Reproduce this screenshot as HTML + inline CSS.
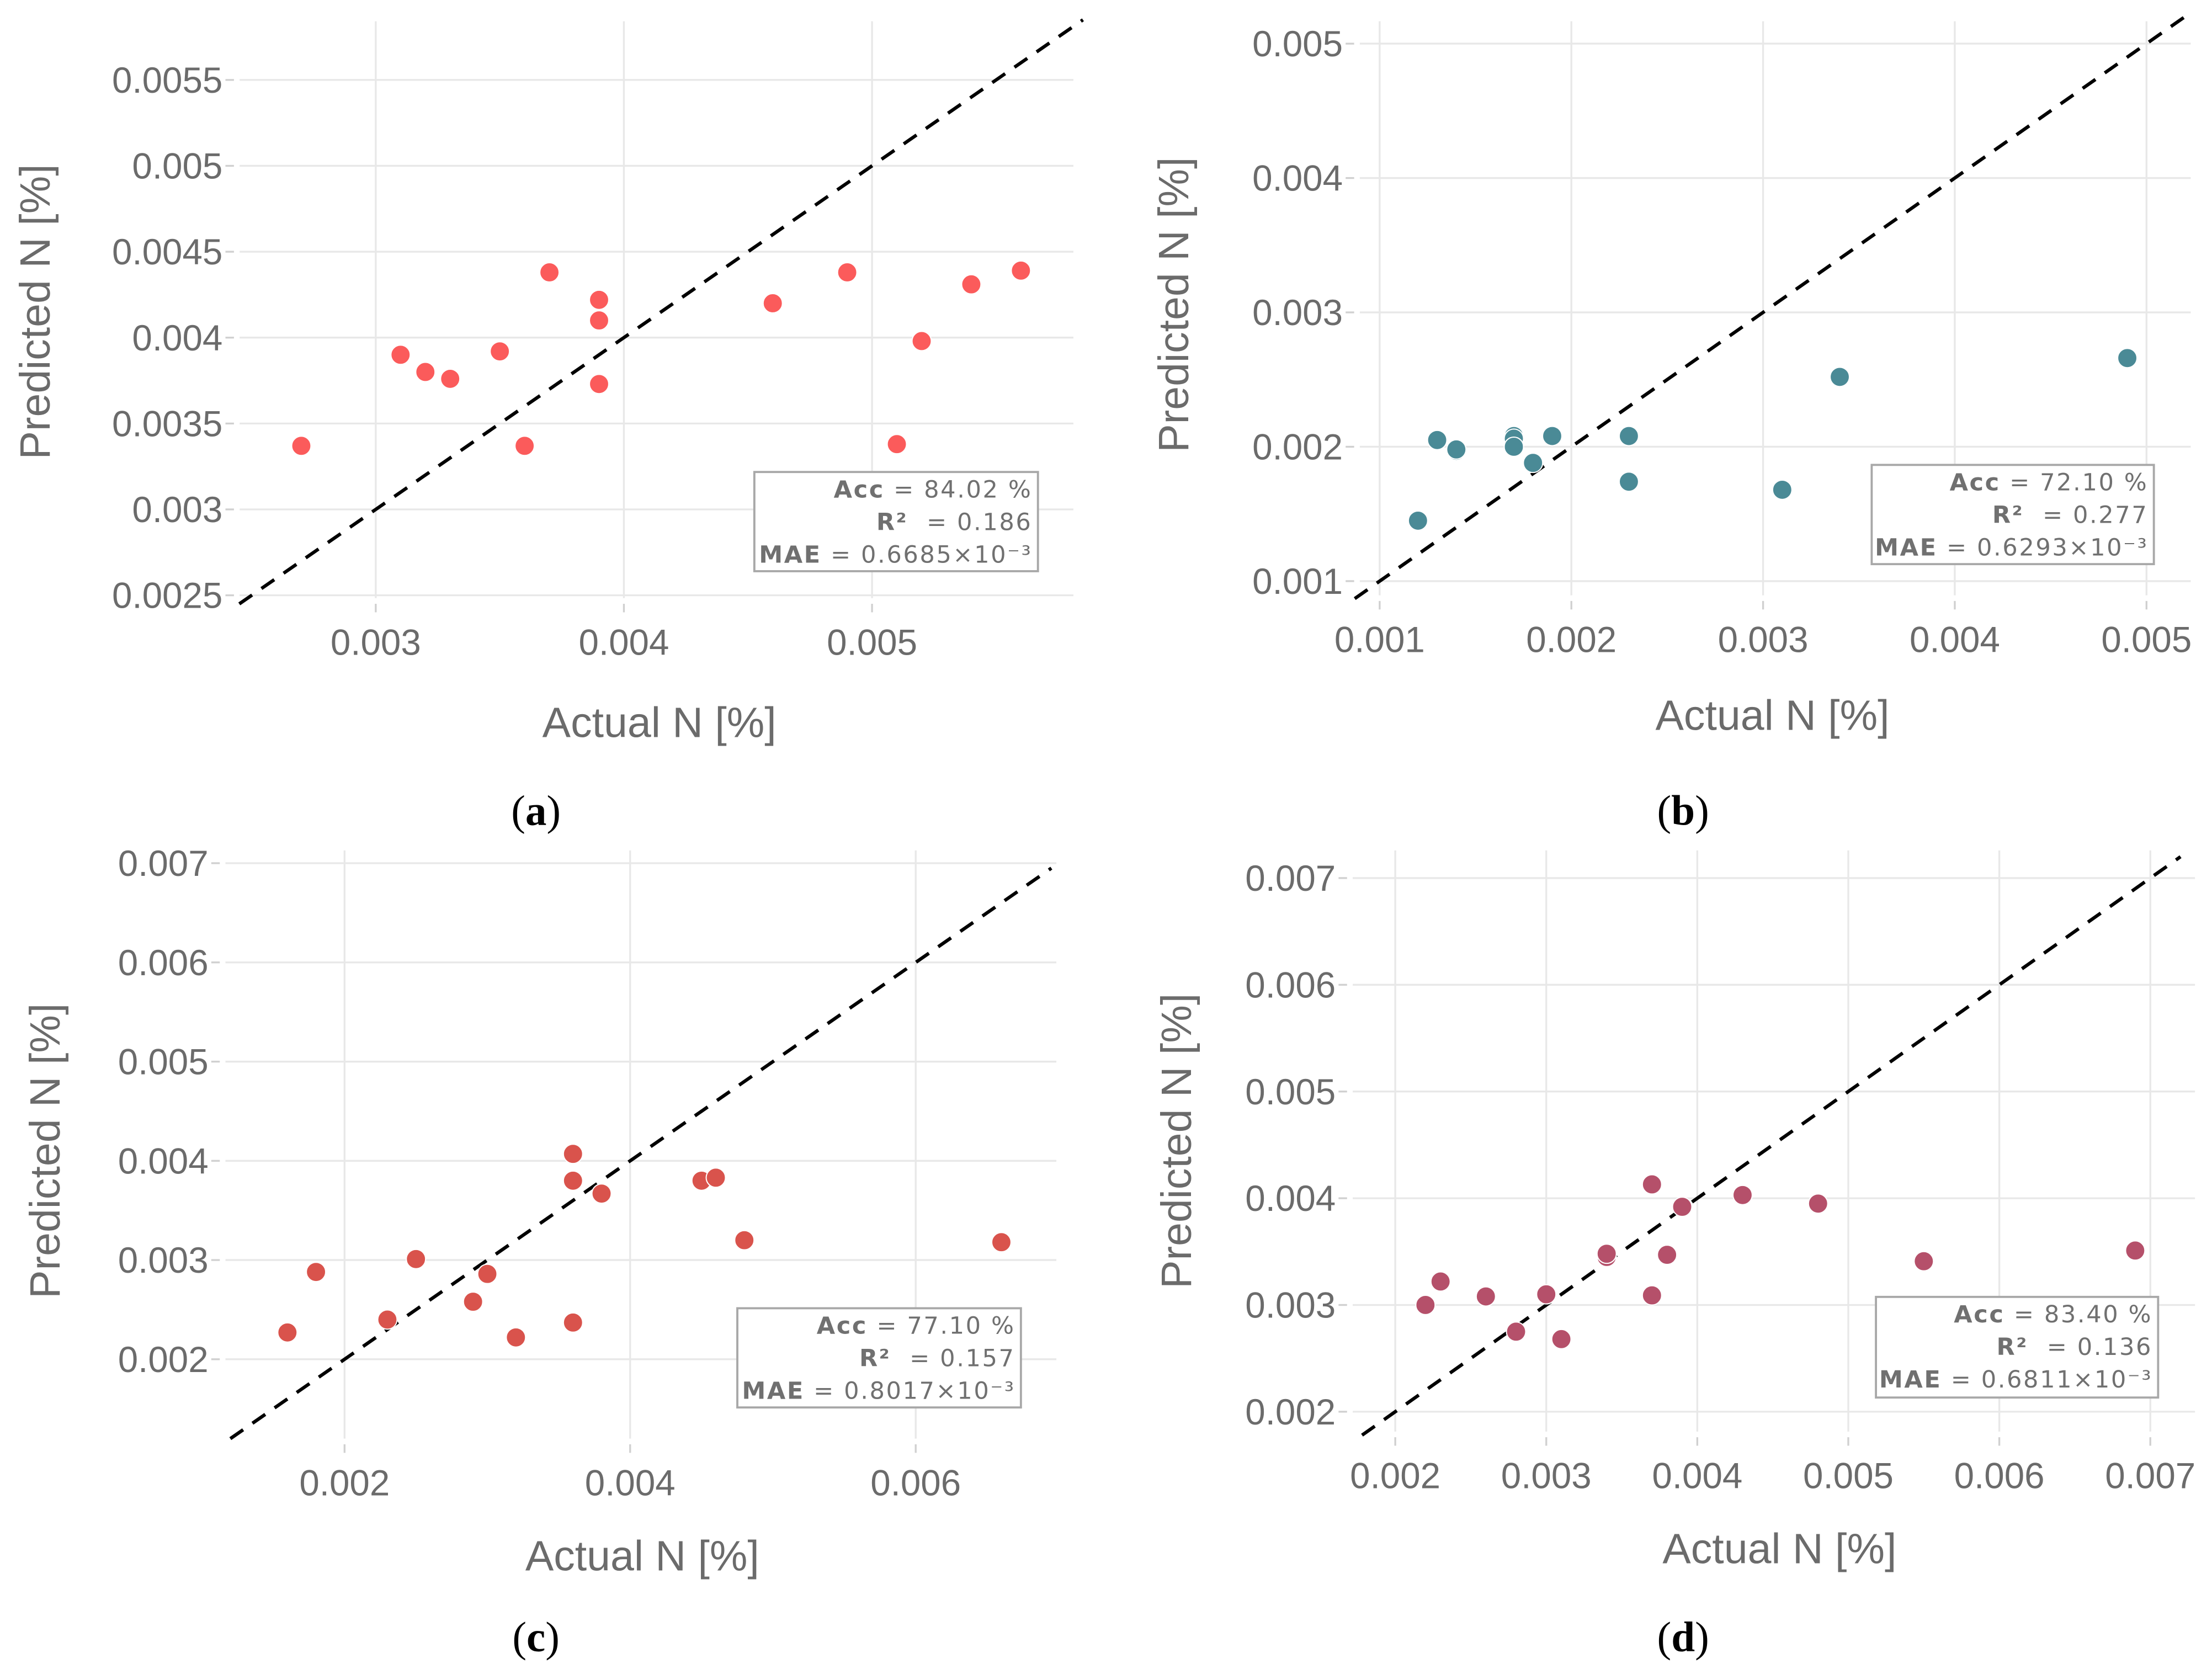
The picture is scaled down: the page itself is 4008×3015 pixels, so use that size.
<!DOCTYPE html>
<html><head><meta charset="utf-8"><style>
html,body{margin:0;padding:0;background:#fff;}
svg{display:block;}
.tick{font-family:"Liberation Sans",sans-serif;font-size:25.5px;fill:#6b6b6b;}
.atitle{font-family:"Liberation Sans",sans-serif;font-size:30px;fill:#6b6b6b;}
.stat{font-family:"DejaVu Sans",sans-serif;font-size:16.8px;fill:#707070;letter-spacing:1px;}
.cap{font-family:"Liberation Serif",serif;font-size:30px;fill:#000;}
</style></head><body>
<svg id="fig" width="4008" height="3015" viewBox="0 0 1560 1174" preserveAspectRatio="none" xmlns="http://www.w3.org/2000/svg"></svg>
<script>
// Panel (a)
const aX=[2.7,3.1,3.2,3.3,3.5,3.6,3.7,3.9,3.9,3.9,4.6,4.9,5.1,5.2,5.4,5.6];
const aY=[3.37,3.9,3.8,3.76,3.92,3.37,4.38,4.22,4.1,3.73,4.2,4.38,3.38,3.98,4.31,4.39];
const aXTicks=["0.003","0.004","0.005"];
const aYTicks=["0.0025","0.003","0.0035","0.004","0.0045","0.005","0.0055"];
const aStats=["84.02 %","0.186","0.6685×10⁻³"];
// Panel (b)
const bX=[1.2,1.3,1.4,1.4,1.7,1.7,1.7,1.8,1.9,2.3,2.3,3.1,3.4,4.9];
const bY=[1.45,2.05,1.97,1.98,2.08,2.06,2.0,1.88,2.08,2.08,1.74,1.68,2.52,2.66];
const bXTicks=["0.001","0.002","0.003","0.004","0.005"];
const bYTicks=["0.001","0.002","0.003","0.004","0.005"];
const bStats=["72.10 %","0.277","0.6293×10⁻³"];
// Panel (c)
const cX=[1.6,1.8,2.3,2.5,2.5,2.9,3.0,3.2,3.6,3.6,3.6,3.8,4.5,4.6,4.8,6.6];
const cY=[2.27,2.88,2.4,3.0,3.01,2.58,2.86,2.22,4.07,3.8,2.37,3.67,3.8,3.83,3.2,3.18];
const cXTicks=["0.002","0.004","0.006"];
const cYTicks=["0.002","0.003","0.004","0.005","0.006","0.007"];
const cStats=["77.10 %","0.157","0.8017×10⁻³"];
// Panel (d)
const dX=[2.2,2.3,2.6,2.8,3.0,3.1,3.4,3.4,3.7,3.7,3.8,3.9,4.3,4.8,5.5,6.9];
const dY=[3.0,3.22,3.08,2.75,3.1,2.68,3.45,3.48,4.13,3.09,3.47,3.92,4.03,3.95,3.41,3.51];
const dXTicks=["0.002","0.003","0.004","0.005","0.006","0.007"];
const dYTicks=["0.002","0.003","0.004","0.005","0.006","0.007"];
const dStats=["83.40 %","0.136","0.6811×10⁻³"];

const NS="http://www.w3.org/2000/svg";
const fig=document.getElementById('fig');
function mk(tag,attrs,parent,text){const e=document.createElementNS(NS,tag);for(const k in attrs)e.setAttribute(k,attrs[k]);if(text!==undefined)e.textContent=text;parent.appendChild(e);return e;}

const panels=[
 {id:'a',xs:aX,ys:aY,xt:aXTicks,yt:aYTicks,st:aStats,color:'#fb5b5b',
  L:165,R:757,T:15,B:422,x0:3,px0:265,xs1:175,y0:2.5,py0:420,ys1:121.2,
  dl:[2.45,5.85],box:[532,333,200,70],ytx:25,yty:220,xtx:465,xty:520,cx:378,cy:582},
 {id:'b',xs:bX,ys:bY,xt:bXTicks,yt:bYTicks,st:bStats,color:'#4a8a96',
  L:955,R:1545,T:15,B:420,x0:1,px0:973,xs1:135.2,y0:1,py0:410,ys1:94.8,
  dl:[0.87,5.2],box:[1320,328,199,70],ytx:828,yty:215,xtx:1250,xty:515,cx:1187,cy:582},
 {id:'c',xs:cX,ys:cY,xt:cXTicks,yt:cYTicks,st:cStats,color:'#d9534c',
  L:155,R:745,T:600,B:1015,x0:2,px0:243,xs1:100.7,y0:2,py0:959,ys1:70,
  dl:[1.2,6.95],box:[520,923,200,70],ytx:32,yty:812,xtx:453,xty:1108,cx:378,cy:1165},
 {id:'d',xs:dX,ys:dY,xt:dXTicks,yt:dYTicks,st:dStats,color:'#b5506a',
  L:950,R:1548,T:600,B:1010,x0:2,px0:984,xs1:106.5,y0:2,py0:996,ys1:75.3,
  dl:[1.78,7.2],box:[1323,915,199,71],ytx:830,yty:805,xtx:1255,xty:1103,cx:1187,cy:1165}
];

panels.forEach(p=>{
 const g=mk('g',{},fig);
 
 
 const sx=v=>p.px0+(v-p.x0)*p.xs1;
 const sy=v=>p.py0-(v-p.y0)*p.ys1;
 p.xt.forEach(t=>{const x=sx(parseFloat(t)*1000);
  const l=mk('line',{x1:x,x2:x,y1:p.T,y2:p.B,stroke:'#e8e8e8','stroke-width':1.3},g);
  
  mk('line',{x1:x,x2:x,y1:p.B+4,y2:p.B+10,stroke:'#d0d0d0','stroke-width':1.3},g);
  const tx=mk('text',{x:x,y:p.B+40,'text-anchor':'middle',class:'tick'},g,t);
  
 });
 p.yt.forEach(t=>{const y=sy(parseFloat(t)*1000);
  const l=mk('line',{x1:p.L+4,x2:p.R,y1:y,y2:y,stroke:'#e8e8e8','stroke-width':1.3},g);
  
  mk('line',{x1:p.L-6,x2:p.L,y1:y,y2:y,stroke:'#d0d0d0','stroke-width':1.3},g);
  const tx=mk('text',{x:p.L-8,y:y+9,'text-anchor':'end',class:'tick'},g,t);
  
 });
 const dl=mk('line',{x1:sx(p.dl[0]),y1:sy(p.dl[0]),x2:sx(p.dl[1]),y2:sy(p.dl[1]),stroke:'#000','stroke-width':2.4,'stroke-dasharray':'11,8'},g);
 
 p.xs.forEach((v,i)=>{
  const c=mk('circle',{cx:sx(v),cy:sy(p.ys[i]),r:6.8,fill:p.color,stroke:'#fff','stroke-width':0.8},g);
  
 });
 const b=p.box;
 const bx=mk('rect',{x:b[0],y:b[1],width:b[2],height:b[3],fill:'#fff',stroke:'#a8a8a8','stroke-width':1.5},g);
 
 const labels=['Acc','R²\u00a0','MAE'];
 p.st.forEach((s,i)=>{
  const t=mk('text',{x:b[0]+b[2]-4,y:b[1]+18+i*23,'text-anchor':'end',class:'stat'},g);
  
  mk('tspan',{'font-weight':'bold'},t,labels[i]);
  mk('tspan',{},t,' = '+s);
 });
 const yt=mk('text',{x:p.ytx,y:p.yty,'text-anchor':'middle',class:'atitle',transform:`rotate(-90 ${p.ytx} ${p.yty})`,dy:10},g,'Predicted N [%]');
 
 const xt=mk('text',{x:p.xtx,y:p.xty,'text-anchor':'middle',class:'atitle'},g,'Actual N [%]');
 
 const cp=mk('text',{x:p.cx,y:p.cy,'text-anchor':'middle',class:'cap'},g);
 
 mk('tspan',{},cp,'(');mk('tspan',{'font-weight':'bold'},cp,p.id);mk('tspan',{},cp,')');
});
</script>
</body></html>
